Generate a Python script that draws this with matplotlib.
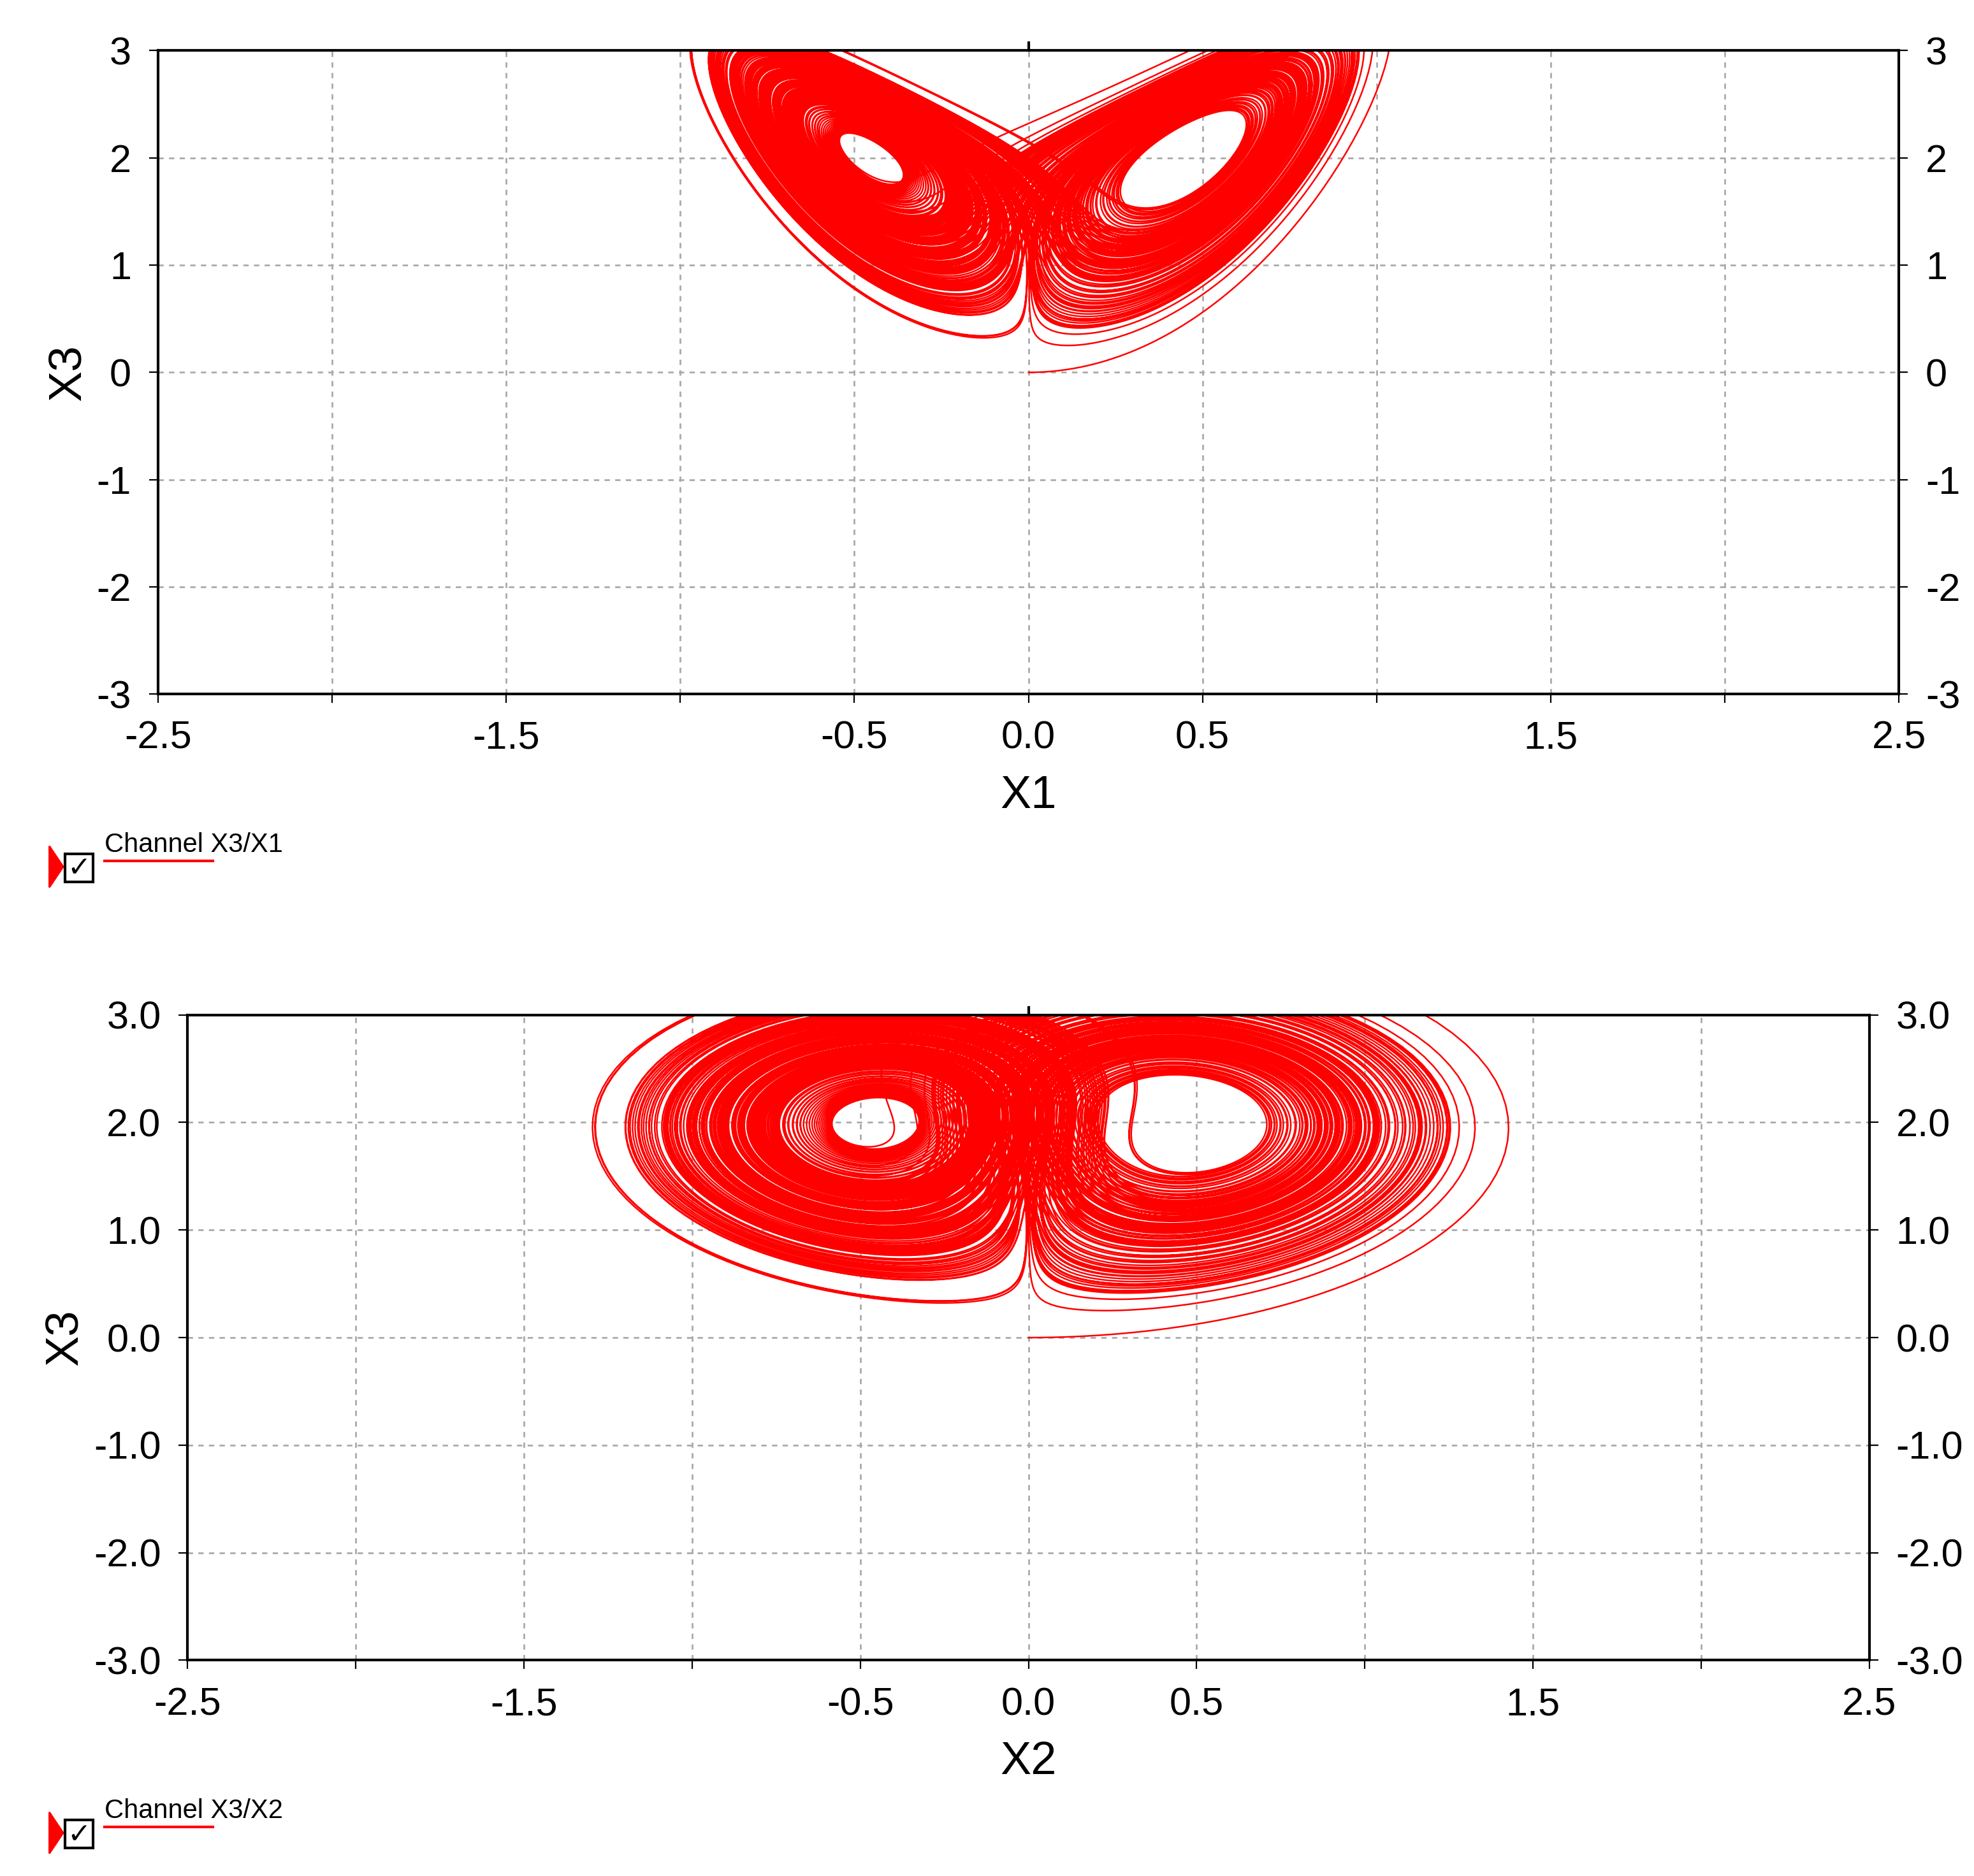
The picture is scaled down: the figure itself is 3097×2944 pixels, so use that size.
import numpy as np
import matplotlib
matplotlib.use("Agg")
import matplotlib.pyplot as plt
from matplotlib.patches import Rectangle, Polygon

# Trajectory of the (rescaled) Lorenz system shown in the reference.
SIGMA, RHO, BETA = 10.0, 26.0, 8.0 / 3.0
X_SCALE, Z_SCALE = 18.0, 12.5
START = [0.0, 1e-3, 0.0]
DT, N_STEPS = 0.004, 60000

x_ticks = [-2.5, -2.0, -1.5, -1.0, -0.5, 0.0, 0.5, 1.0, 1.5, 2.0, 2.5]
x_labels = ["-2.5", "", "-1.5", "", "-0.5", "0.0", "0.5", "", "1.5", "", "2.5"]
y_ticks = [-3, -2, -1, 0, 1, 2, 3]
top_ylabels = ["-3", "-2", "-1", "0", "1", "2", "3"]
bot_ylabels = ["-3.0", "-2.0", "-1.0", "0.0", "1.0", "2.0", "3.0"]


def f(s):
    x, y, z = s
    return np.array([SIGMA * (y - x), x * (RHO - z) - y, x * y - BETA * z])


s = np.array(START)
traj = np.empty((N_STEPS, 3))
for i in range(N_STEPS):
    traj[i] = s
    k1 = f(s); k2 = f(s + DT / 2 * k1); k3 = f(s + DT / 2 * k2); k4 = f(s + DT * k3)
    s = s + DT / 6 * (k1 + 2 * k2 + 2 * k3 + k4)
x1 = traj[:, 0] / X_SCALE
x2 = traj[:, 1] / X_SCALE
x3 = traj[:, 2] / Z_SCALE

plt.rcParams["font.family"] = ["Liberation Sans", "DejaVu Sans"]
fig = plt.figure(figsize=(15.485, 14.72), dpi=200)

panels = [
    ([0.080, 0.630, 0.882, 0.343], x1, "X1", top_ylabels, "Channel X3/X1", 0.527),
    ([0.095, 0.115, 0.852, 0.344], x2, "X2", bot_ylabels, "Channel X3/X2", 0.012),
]
for rect, xs, xlabel, ylabels, legend, ly in panels:
    ax = fig.add_axes(rect)
    ax.plot(xs, x3, color="red", lw=0.9)
    ax.set_xlim(-2.5, 2.5)
    ax.set_ylim(-3, 3)
    ax.set_xticks(x_ticks)
    ax.set_xticklabels(x_labels)
    ax.set_yticks(y_ticks)
    ax.set_yticklabels(ylabels)
    ax.tick_params(labelsize=22, right=True, labelright=True, direction="out", length=5, pad=10)
    ax.grid(True, ls=(0, (3, 3)), color="#aaaaaa", lw=1)
    for sp in ["left", "right", "top", "bottom"]:
        ax.spines[sp].set_linewidth(1.5)
    ax.set_xlabel(xlabel, fontsize=26, labelpad=10)
    ax.set_ylabel("X3", fontsize=26, labelpad=4)
    ax.axvline(0, ymin=1.0, ymax=1.012, color="black", lw=1.5, clip_on=False)

    # legend entry: marker, checkbox, text with red underline
    fig.patches.append(Polygon([[0.025, ly], [0.025, ly + 0.022], [0.032, ly + 0.011]],
                               closed=True, color="red", transform=fig.transFigure))
    fig.patches.append(Rectangle((0.033, ly + 0.003), 0.014, 0.015, fill=False,
                                 ec="black", lw=1.5, transform=fig.transFigure))
    fig.text(0.040, ly + 0.010, "\u2713", fontsize=16, ha="center", va="center",
             family="DejaVu Sans", weight="bold")
    fig.text(0.053, ly + 0.019, legend, fontsize=15)
    fig.lines.append(plt.Line2D([0.053, 0.108], [ly + 0.014, ly + 0.014],
                                color="red", lw=1.5, transform=fig.transFigure))

fig.savefig("out.png", dpi=200)
